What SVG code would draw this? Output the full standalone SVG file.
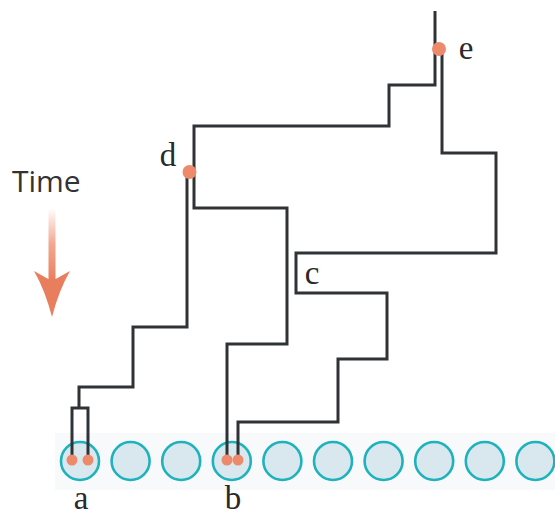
<svg xmlns="http://www.w3.org/2000/svg" width="555" height="517" viewBox="0 0 555 517">
  <style>
    .lin { fill: none; stroke: #2f3335; stroke-width: 3; stroke-linejoin: miter; stroke-linecap: butt; }
    .cell { fill: #d9e7ee; stroke: #1eb2bd; stroke-width: 2.6; }
    .dot { fill: #ee8a6c; }
    .lbl { font-family: "Liberation Serif", "Times New Roman", serif; font-size: 33px; fill: #2a2a2a; text-anchor: middle; }
    .time { font-family: "Open Sans", "DejaVu Sans", sans-serif; font-size: 30px; fill: #333333; }
  </style>
  <defs>
    <linearGradient id="shaftGrad" x1="0" y1="0" x2="0" y2="1">
      <stop offset="0" stop-color="#ee8a6c" stop-opacity="0"/>
      <stop offset="0.5" stop-color="#ee8a6c" stop-opacity="0.75"/>
      <stop offset="1" stop-color="#e97e5e"/>
    </linearGradient>
  </defs>

  <rect width="555" height="517" fill="#ffffff"/>

  <!-- time axis -->
  <g id="time-axis">
    <text class="time" x="12" y="192">Time</text>
    <rect x="48.5" y="208" width="7" height="72" fill="url(#shaftGrad)"/>
    <path d="M34,271 Q43,276 48.5,279 H55.5 Q61,276 70,271 Q59,290 52,317 Q45,290 34,271 Z" fill="#e97e5e"/>
  </g>

  <!-- row of cells on a faint backing strip -->
  <rect x="55" y="433" width="500" height="57" fill="#f8f9fa"/>
  <g id="cells">
    <circle class="cell" cx="80" cy="461" r="19"/>
    <circle class="cell" cx="130.6" cy="461" r="19"/>
    <circle class="cell" cx="181.2" cy="461" r="19"/>
    <circle class="cell" cx="231.8" cy="461" r="19"/>
    <circle class="cell" cx="282.4" cy="461" r="19"/>
    <circle class="cell" cx="333" cy="461" r="19"/>
    <circle class="cell" cx="383.6" cy="461" r="19"/>
    <circle class="cell" cx="434.2" cy="461" r="19"/>
    <circle class="cell" cx="484.8" cy="461" r="19"/>
    <circle class="cell" cx="535.4" cy="461" r="19"/>
  </g>

  <!-- lineage connectors -->
  <g id="connectors">
    <path class="lin" d="M72,460 V408 H88 V460"/>
    <path class="lin" d="M79,408 V387 H133 V327 H187 V172"/>
    <path class="lin" d="M227,460 V344 H287 V208 H194 V126 H389 V85 H435 V11"/>
    <path class="lin" d="M238,460 V422 H338 V359 H387 V293 H296 V253 H496 V153 H442 V49"/>
  </g>

  <g id="node-a">
    <circle class="dot" cx="72" cy="460" r="5.5"/>
    <circle class="dot" cx="88" cy="460" r="5.5"/>
    <text class="lbl" x="81" y="509">a</text>
  </g>
  <g id="node-b">
    <circle class="dot" cx="227" cy="460" r="5.5"/>
    <circle class="dot" cx="238" cy="460" r="5.5"/>
    <text class="lbl" x="233" y="509">b</text>
  </g>
  <g id="node-c">
    <text class="lbl" x="312" y="284">c</text>
  </g>
  <g id="node-d">
    <circle class="dot" cx="189.5" cy="172" r="7"/>
    <text class="lbl" x="168" y="166">d</text>
  </g>
  <g id="node-e">
    <circle class="dot" cx="439" cy="49" r="7"/>
    <text class="lbl" x="466" y="59">e</text>
  </g>
</svg>
